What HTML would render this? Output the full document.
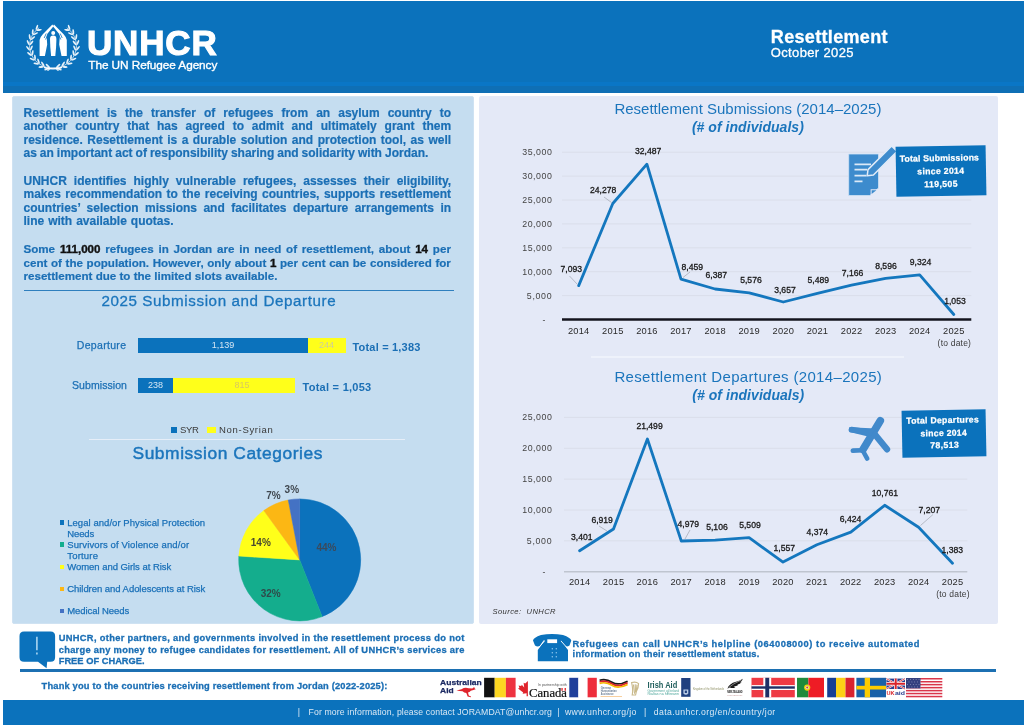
<!DOCTYPE html>
<html><head><meta charset="utf-8"><title>Resettlement</title>
<style>
*{margin:0;padding:0;box-sizing:border-box}
html,body{width:1024px;height:725px;overflow:hidden;background:#fff}
body{position:relative;font-family:"Liberation Sans",sans-serif;color:#1b6fb5}
.abs{position:absolute}
.t{position:absolute;white-space:pre}
.p b{color:#111;-webkit-text-stroke:.4px #111}
</style></head><body>
<div class="abs" style="left:2.8px;top:1.1px;width:1021.2px;height:92.3px;background:#0b72bc;"></div>
<div class="abs" style="left:2.8px;top:81.8px;width:1021.2px;height:4.2px;background:#0a76c6;"></div>
<div class="abs" style="left:2.8px;top:86px;width:1021.2px;height:7.4px;background:#0f6fb5;"></div>
<div class="abs" style="left:12px;top:96px;width:461.7px;height:527.8px;background:#c5ddf0;border-radius:2px;border:1.5px solid #cfe2f2;"></div>
<div class="abs" style="left:479.4px;top:96px;width:519.1px;height:528.3px;background:#e4e9f7;border-radius:2px;"></div>
<div class="abs" style="left:3.1px;top:699.8px;width:1021px;height:25.2px;background:#0b72bc;"></div>
<div class="t" style="left:87.0px;top:22.1px;font-size:35px;line-height:42.0px;color:#fff;font-weight:bold;letter-spacing:0.824px;-webkit-text-stroke:1.1px #fff;">UNHCR</div>
<div class="t" style="left:88.3px;top:58.2px;font-size:11.8px;line-height:14.2px;color:#fff;letter-spacing:-0.073px;-webkit-text-stroke:.35px #fff;">The UN Refugee Agency</div>
<div class="t" style="left:770.8px;top:26.6px;font-size:18px;line-height:21.6px;color:#fff;font-weight:bold;letter-spacing:0.330px;-webkit-text-stroke:.3px #fff;">Resettlement</div>
<div class="t" style="left:770.8px;top:45.2px;font-size:13px;line-height:15.6px;color:#fff;letter-spacing:0.352px;-webkit-text-stroke:.3px #fff;">October 2025</div>
<div class="t p" style="left:23.5px;top:105.7px;font-size:12px;line-height:14.4px;font-weight:bold;color:#1b6fb5;word-spacing:4.751px;-webkit-text-stroke:.2px #1b6fb5;">Resettlement is the transfer of refugees from an asylum country to</div>
<div class="t p" style="left:23.5px;top:119.1px;font-size:12px;line-height:14.4px;font-weight:bold;color:#1b6fb5;word-spacing:4.488px;-webkit-text-stroke:.2px #1b6fb5;">another country that has agreed to admit and ultimately grant them</div>
<div class="t p" style="left:23.5px;top:132.6px;font-size:12px;line-height:14.4px;font-weight:bold;color:#1b6fb5;word-spacing:1.151px;-webkit-text-stroke:.2px #1b6fb5;">residence. Resettlement is a durable solution and protection tool, as well</div>
<div class="t p" style="left:23.5px;top:146.0px;font-size:12px;line-height:14.4px;font-weight:bold;color:#1b6fb5;word-spacing:-0.327px;-webkit-text-stroke:.2px #1b6fb5;">as an important act of responsibility sharing and solidarity with Jordan.</div>
<div class="t p" style="left:23.5px;top:173.7px;font-size:12px;line-height:14.4px;font-weight:bold;color:#1b6fb5;word-spacing:3.671px;-webkit-text-stroke:.2px #1b6fb5;">UNHCR identifies highly vulnerable refugees, assesses their eligibility,</div>
<div class="t p" style="left:23.5px;top:187.1px;font-size:12px;line-height:14.4px;font-weight:bold;color:#1b6fb5;word-spacing:1.164px;-webkit-text-stroke:.2px #1b6fb5;">makes recommendation to the receiving countries, supports resettlement</div>
<div class="t p" style="left:23.5px;top:200.6px;font-size:12px;line-height:14.4px;font-weight:bold;color:#1b6fb5;word-spacing:3.067px;-webkit-text-stroke:.2px #1b6fb5;">countries’ selection missions and facilitates departure arrangements in</div>
<div class="t p" style="left:23.5px;top:214.0px;font-size:12px;line-height:14.4px;font-weight:bold;color:#1b6fb5;word-spacing:0.654px;-webkit-text-stroke:.2px #1b6fb5;">line with available quotas.</div>
<div class="t p" style="left:23.5px;top:242.3px;font-size:11.6px;line-height:13.9px;font-weight:bold;color:#1b6fb5;word-spacing:1.572px;-webkit-text-stroke:.2px #1b6fb5;">Some <b>111,000</b> refugees in Jordan are in need of resettlement, about <b>14</b> per</div>
<div class="t p" style="left:23.5px;top:255.7px;font-size:11.6px;line-height:13.9px;font-weight:bold;color:#1b6fb5;word-spacing:0.417px;-webkit-text-stroke:.2px #1b6fb5;">cent of the population. However, only about <b>1</b> per cent can be considered for</div>
<div class="t p" style="left:23.5px;top:269.2px;font-size:11.6px;line-height:13.9px;font-weight:bold;color:#1b6fb5;word-spacing:0.003px;-webkit-text-stroke:.2px #1b6fb5;">resettlement due to the limited slots available.</div>
<div class="abs" style="left:23.5px;top:289.5px;width:430.3px;height:1.2px;background:#2f7fbe;"></div>
<div class="t" style="left:101.4px;top:292.0px;font-size:15.2px;line-height:18.2px;color:#1b75bc;letter-spacing:0.586px;-webkit-text-stroke:.3px #1b75bc;">2025 Submission and Departure</div>
<div class="t" style="left:76.8px;top:339.3px;font-size:10.5px;line-height:12.6px;color:#1b6fb5;letter-spacing:0.312px;-webkit-text-stroke:.25px #1b6fb5;">Departure</div>
<div class="t" style="left:72.0px;top:379.3px;font-size:10.5px;line-height:12.6px;color:#1b6fb5;letter-spacing:0.073px;-webkit-text-stroke:.25px #1b6fb5;">Submission</div>
<div class="abs" style="left:138px;top:338.1px;width:169.6px;height:14.5px;background:#0b72bc;"></div>
<div class="abs" style="left:307.6px;top:338.1px;width:38px;height:14.5px;background:#ffff1a;"></div>
<div class="abs" style="left:138px;top:378.1px;width:34.8px;height:14.5px;background:#0b72bc;"></div>
<div class="abs" style="left:172.8px;top:378.1px;width:122.2px;height:14.5px;background:#ffff1a;"></div>
<div class="t" style="left:211.7px;top:340.1px;font-size:9px;line-height:10.8px;color:#d6e6f3;">1,139</div>
<div class="t" style="left:319.0px;top:340.1px;font-size:9px;line-height:10.8px;color:#cdcd9c;">244</div>
<div class="t" style="left:148.0px;top:380.1px;font-size:9px;line-height:10.8px;color:#d6e6f3;">238</div>
<div class="t" style="left:234.5px;top:380.1px;font-size:9px;line-height:10.8px;color:#d9c860;">815</div>
<div class="t" style="left:352.5px;top:340.9px;font-size:11px;line-height:13.2px;color:#1b6fb5;font-weight:bold;letter-spacing:0.191px;">Total = 1,383</div>
<div class="t" style="left:302.5px;top:380.9px;font-size:11px;line-height:13.2px;color:#1b6fb5;font-weight:bold;letter-spacing:0.268px;">Total = 1,053</div>
<div class="abs" style="left:170.6px;top:426.6px;width:6.2px;height:6.2px;background:#0b72bc;"></div>
<div class="t" style="left:180.0px;top:424.3px;font-size:9.5px;line-height:11.4px;color:#3a3a3a;letter-spacing:-0.345px;">SYR</div>
<div class="abs" style="left:206.5px;top:426.6px;width:9.5px;height:6.2px;background:#ffff1a;"></div>
<div class="t" style="left:219.0px;top:424.3px;font-size:9.5px;line-height:11.4px;color:#3a3a3a;letter-spacing:0.698px;">Non-Syrian</div>
<div class="abs" style="left:89px;top:439px;width:316px;height:1.3px;background:#e6eef8;"></div>
<div class="t" style="left:132.5px;top:442.9px;font-size:17.4px;line-height:20.9px;color:#1b75bc;letter-spacing:0.551px;-webkit-text-stroke:.45px #1b75bc;">Submission Categories</div>
<svg class="abs" style="left:0;top:0" width="1024" height="725" viewBox="0 0 1024 725">
<path d="M299.7,559.9 L299.70,498.90 A61,61 0 0 1 322.16,616.62 Z" fill="#0b72bc" stroke="#0b72bc" stroke-width=".5"/>
<path d="M299.7,559.9 L322.16,616.62 A61,61 0 0 1 238.82,556.07 Z" fill="#14ad8d" stroke="#14ad8d" stroke-width=".5"/>
<path d="M299.7,559.9 L238.82,556.07 A61,61 0 0 1 263.85,510.55 Z" fill="#ffff1a" stroke="#ffff1a" stroke-width=".5"/>
<path d="M299.7,559.9 L263.85,510.55 A61,61 0 0 1 288.27,499.98 Z" fill="#fcb714" stroke="#fcb714" stroke-width=".5"/>
<path d="M299.7,559.9 L288.27,499.98 A61,61 0 0 1 299.70,498.90 Z" fill="#4472c4" stroke="#4472c4" stroke-width=".5"/>
<line x1="562" y1="295.6" x2="971.3" y2="295.6" stroke="#dadeea" stroke-width="1"/>
<line x1="562" y1="271.7" x2="971.3" y2="271.7" stroke="#dadeea" stroke-width="1"/>
<line x1="562" y1="247.8" x2="971.3" y2="247.8" stroke="#dadeea" stroke-width="1"/>
<line x1="562" y1="223.9" x2="971.3" y2="223.9" stroke="#dadeea" stroke-width="1"/>
<line x1="562" y1="200.0" x2="971.3" y2="200.0" stroke="#dadeea" stroke-width="1"/>
<line x1="562" y1="176.1" x2="971.3" y2="176.1" stroke="#dadeea" stroke-width="1"/>
<line x1="562" y1="152.2" x2="971.3" y2="152.2" stroke="#dadeea" stroke-width="1"/>
<line x1="562" y1="319.5" x2="971.3" y2="319.5" stroke="#14141e" stroke-width="2.3"/>
<polyline fill="none" stroke="#1477be" stroke-width="2.8" stroke-linejoin="round" stroke-linecap="round" points="578.7,285.6 612.8,203.5 646.9,164.2 681.0,279.1 715.1,289.0 749.2,292.8 783.3,302.0 817.4,293.3 851.5,285.2 885.6,278.4 919.7,274.9 953.8,314.5"/>
<line x1="564" y1="540.8" x2="967.3" y2="540.8" stroke="#dadeea" stroke-width="1"/>
<line x1="564" y1="510.0" x2="967.3" y2="510.0" stroke="#dadeea" stroke-width="1"/>
<line x1="564" y1="479.1" x2="967.3" y2="479.1" stroke="#dadeea" stroke-width="1"/>
<line x1="564" y1="448.3" x2="967.3" y2="448.3" stroke="#dadeea" stroke-width="1"/>
<line x1="564" y1="417.4" x2="967.3" y2="417.4" stroke="#dadeea" stroke-width="1"/>
<line x1="564" y1="571.7" x2="967.3" y2="571.7" stroke="#bfc5d0" stroke-width="1.6"/>
<polyline fill="none" stroke="#1477be" stroke-width="2.8" stroke-linejoin="round" stroke-linecap="round" points="579.6,550.7 613.5,529.0 647.4,439.0 681.3,541.0 715.2,540.2 749.1,537.7 783.0,562.1 816.9,544.7 850.8,532.1 884.7,505.3 918.6,527.2 952.5,563.2"/>
<line x1="569.5" y1="276" x2="577.5" y2="284.5" stroke="#a8adb8" stroke-width="0.8"/>
<line x1="604" y1="197" x2="611.5" y2="202.5" stroke="#a8adb8" stroke-width="0.8"/>
<line x1="690" y1="272" x2="683" y2="277.5" stroke="#a8adb8" stroke-width="0.8"/>
<line x1="599" y1="526" x2="607" y2="531" stroke="#a8adb8" stroke-width="0.8"/>
<line x1="690" y1="530" x2="685" y2="539" stroke="#a8adb8" stroke-width="0.8"/>
<line x1="933" y1="514.5" x2="920.5" y2="525.5" stroke="#a8adb8" stroke-width="0.8"/>
<path fill="#fff" d="M39.6,56 L39.6,40 Q40.3,36.8 42.8,34.2 L52.4,24.6 L53.5,26.3 L47.4,33.8 Q46,36.2 46.8,39 L47.2,44.5 L44.9,56 Z"/>
<path fill="#fff" d="M66.8,56 L66.8,40 Q66.1,36.8 63.6,34.2 L54,24.6 L52.9,26.3 L59,33.8 Q60.4,36.2 59.6,39 L59.2,44.5 L61.5,56 Z"/>
<path stroke="#0b72bc" stroke-width="0.8" fill="none" d="M44.2,38 L46.2,33.5 M45.6,39.5 L47.4,35.5 M62.2,38 L60.2,33.5 M60.8,39.5 L59,35.5"/>
<circle cx="53.2" cy="32.9" r="2" fill="#fff"/>
<path fill="#fff" d="M50,39 Q50,35.6 53.2,35.6 Q56.4,35.6 56.4,39 L56.1,47 L55.3,56 L51.1,56 L50.3,47 Z"/>
<polyline fill="none" stroke="#fff" stroke-width="0.7" points="57.9,67.6 55.4,68.0 53.0,68.1 50.6,68.0 48.1,67.6 45.8,67.0 43.5,66.2 41.3,65.1 39.2,63.8 37.3,62.4 35.6,60.7 34.1,58.9 32.7,57.0 31.6,54.9 30.7,52.7 30.1,50.4 29.7,48.1 29.6,45.8 29.7,43.5 30.1,41.2 30.7,38.9 31.6,36.7 32.7,34.7 34.1,32.7 35.6,30.9 37.3,29.2 39.2,27.8"/>
<ellipse cx="46.9" cy="69.1" rx="2.8" ry="0.9" fill="#fff" opacity=".9" transform="rotate(-197.6 46.9 69.1)"/>
<ellipse cx="47.8" cy="65.8" rx="2.8" ry="0.9" fill="#fff" opacity=".9" transform="rotate(-137.6 47.8 65.8)"/>
<ellipse cx="41.2" cy="67.0" rx="2.8" ry="0.9" fill="#fff" opacity=".9" transform="rotate(-184.1 41.2 67.0)"/>
<ellipse cx="42.8" cy="64.0" rx="2.8" ry="0.9" fill="#fff" opacity=".9" transform="rotate(-124.1 42.8 64.0)"/>
<ellipse cx="36.2" cy="63.6" rx="2.8" ry="0.9" fill="#fff" opacity=".9" transform="rotate(-170.4 36.2 63.6)"/>
<ellipse cx="38.5" cy="61.1" rx="2.8" ry="0.9" fill="#fff" opacity=".9" transform="rotate(-110.4 38.5 61.1)"/>
<ellipse cx="32.2" cy="59.2" rx="2.8" ry="0.9" fill="#fff" opacity=".9" transform="rotate(-156.3 32.2 59.2)"/>
<ellipse cx="35.0" cy="57.3" rx="2.8" ry="0.9" fill="#fff" opacity=".9" transform="rotate(-96.3 35.0 57.3)"/>
<ellipse cx="29.4" cy="54.0" rx="2.8" ry="0.9" fill="#fff" opacity=".9" transform="rotate(-141.9 29.4 54.0)"/>
<ellipse cx="32.6" cy="52.8" rx="2.8" ry="0.9" fill="#fff" opacity=".9" transform="rotate(-81.9 32.6 52.8)"/>
<ellipse cx="28.0" cy="48.3" rx="2.8" ry="0.9" fill="#fff" opacity=".9" transform="rotate(-127.3 28.0 48.3)"/>
<ellipse cx="31.4" cy="48.0" rx="2.8" ry="0.9" fill="#fff" opacity=".9" transform="rotate(-67.3 31.4 48.0)"/>
<ellipse cx="28.1" cy="42.5" rx="2.8" ry="0.9" fill="#fff" opacity=".9" transform="rotate(-112.7 28.1 42.5)"/>
<ellipse cx="31.5" cy="42.9" rx="2.8" ry="0.9" fill="#fff" opacity=".9" transform="rotate(-52.7 31.5 42.9)"/>
<ellipse cx="29.7" cy="36.8" rx="2.8" ry="0.9" fill="#fff" opacity=".9" transform="rotate(-98.1 29.7 36.8)"/>
<ellipse cx="32.9" cy="38.1" rx="2.8" ry="0.9" fill="#fff" opacity=".9" transform="rotate(-38.1 32.9 38.1)"/>
<ellipse cx="32.7" cy="31.7" rx="2.8" ry="0.9" fill="#fff" opacity=".9" transform="rotate(-83.7 32.7 31.7)"/>
<ellipse cx="35.4" cy="33.7" rx="2.8" ry="0.9" fill="#fff" opacity=".9" transform="rotate(-23.7 35.4 33.7)"/>
<ellipse cx="36.9" cy="27.4" rx="2.8" ry="0.9" fill="#fff" opacity=".9" transform="rotate(-69.6 36.9 27.4)"/>
<ellipse cx="39.1" cy="30.0" rx="2.8" ry="0.9" fill="#fff" opacity=".9" transform="rotate(-9.6 39.1 30.0)"/>
<polyline fill="none" stroke="#fff" stroke-width="0.7" points="48.1,67.6 50.6,68.0 53.0,68.1 55.4,68.0 57.9,67.6 60.2,67.0 62.5,66.2 64.7,65.1 66.8,63.8 68.7,62.4 70.4,60.7 71.9,58.9 73.3,57.0 74.4,54.9 75.3,52.7 75.9,50.4 76.3,48.1 76.4,45.8 76.3,43.5 75.9,41.2 75.3,38.9 74.4,36.7 73.3,34.7 71.9,32.7 70.4,30.9 68.7,29.2 66.8,27.8"/>
<ellipse cx="59.1" cy="69.1" rx="2.8" ry="0.9" fill="#fff" opacity=".9" transform="rotate(17.6 59.1 69.1)"/>
<ellipse cx="58.2" cy="65.8" rx="2.8" ry="0.9" fill="#fff" opacity=".9" transform="rotate(-42.4 58.2 65.8)"/>
<ellipse cx="64.8" cy="67.0" rx="2.8" ry="0.9" fill="#fff" opacity=".9" transform="rotate(4.1 64.8 67.0)"/>
<ellipse cx="63.2" cy="64.0" rx="2.8" ry="0.9" fill="#fff" opacity=".9" transform="rotate(-55.9 63.2 64.0)"/>
<ellipse cx="69.8" cy="63.6" rx="2.8" ry="0.9" fill="#fff" opacity=".9" transform="rotate(-9.6 69.8 63.6)"/>
<ellipse cx="67.5" cy="61.1" rx="2.8" ry="0.9" fill="#fff" opacity=".9" transform="rotate(-69.6 67.5 61.1)"/>
<ellipse cx="73.8" cy="59.2" rx="2.8" ry="0.9" fill="#fff" opacity=".9" transform="rotate(-23.7 73.8 59.2)"/>
<ellipse cx="71.0" cy="57.3" rx="2.8" ry="0.9" fill="#fff" opacity=".9" transform="rotate(-83.7 71.0 57.3)"/>
<ellipse cx="76.6" cy="54.0" rx="2.8" ry="0.9" fill="#fff" opacity=".9" transform="rotate(-38.1 76.6 54.0)"/>
<ellipse cx="73.4" cy="52.8" rx="2.8" ry="0.9" fill="#fff" opacity=".9" transform="rotate(-98.1 73.4 52.8)"/>
<ellipse cx="78.0" cy="48.3" rx="2.8" ry="0.9" fill="#fff" opacity=".9" transform="rotate(-52.7 78.0 48.3)"/>
<ellipse cx="74.6" cy="48.0" rx="2.8" ry="0.9" fill="#fff" opacity=".9" transform="rotate(-112.7 74.6 48.0)"/>
<ellipse cx="77.9" cy="42.5" rx="2.8" ry="0.9" fill="#fff" opacity=".9" transform="rotate(-67.3 77.9 42.5)"/>
<ellipse cx="74.5" cy="42.9" rx="2.8" ry="0.9" fill="#fff" opacity=".9" transform="rotate(-127.3 74.5 42.9)"/>
<ellipse cx="76.3" cy="36.8" rx="2.8" ry="0.9" fill="#fff" opacity=".9" transform="rotate(-81.9 76.3 36.8)"/>
<ellipse cx="73.1" cy="38.1" rx="2.8" ry="0.9" fill="#fff" opacity=".9" transform="rotate(-141.9 73.1 38.1)"/>
<ellipse cx="73.3" cy="31.7" rx="2.8" ry="0.9" fill="#fff" opacity=".9" transform="rotate(-96.3 73.3 31.7)"/>
<ellipse cx="70.6" cy="33.7" rx="2.8" ry="0.9" fill="#fff" opacity=".9" transform="rotate(-156.3 70.6 33.7)"/>
<ellipse cx="69.1" cy="27.4" rx="2.8" ry="0.9" fill="#fff" opacity=".9" transform="rotate(-110.4 69.1 27.4)"/>
<ellipse cx="66.9" cy="30.0" rx="2.8" ry="0.9" fill="#fff" opacity=".9" transform="rotate(-170.4 66.9 30.0)"/>
<path stroke="#fff" stroke-width="1.1" fill="none" d="M44,67.6 Q53,70.2 62,67.4 M62,67.6 Q53,70.2 44,67.4 M56,69 L58.5,70.6 M50,69 L47.5,70.6"/>
<path fill="#3d8bcd" stroke="#cfe2f5" stroke-width="0.8" d="M848.7,154 L878.5,154 L878.5,188 L870,195.5 L848.7,195.5 Z"/>
<path fill="#e4e9f7" d="M870.6,196 L870.6,189.2 L879,189.2 Z"/>
<path fill="#3d8bcd" d="M871.6,194 L871.6,190.2 L876.4,190.2 Z"/>
<path stroke="#dce9f7" stroke-width="1.9" d="M854.5,164.4 L871,164.4 M854.5,169.6 L867,169.6 M854.5,175.6 L866.5,175.6 M854.5,181.4 L862.5,181.4"/>
<path fill="#3d8bcd" stroke="#e0ebf8" stroke-width="1.5" stroke-linejoin="round" d="M867.2,175.8 L868,169.6 L891.6,146 L897.2,151.4 L873.4,175 Z"/>
<g stroke="#4189cb" stroke-linecap="round" fill="none"><line x1="880.3" y1="420.8" x2="863" y2="449.5" stroke-width="7.6"/><line x1="851.5" y1="429.6" x2="872" y2="432.5" stroke-width="5.8"/><line x1="874.5" y1="434" x2="887" y2="449.3" stroke-width="6.4"/><line x1="862" y1="450.3" x2="852.8" y2="450.6" stroke-width="4.6"/><line x1="863" y1="451" x2="867.2" y2="458.6" stroke-width="4.6"/></g>
<path fill="#4189cb" d="M849.2,427.2 L876,428.5 L870,437 L849.5,432 Z"/>
<path fill="#0b72bc" d="M24,631.5 L50.6,631.5 Q55.1,631.5 55.1,636 L55.1,657.2 Q55.1,661.7 50.6,661.7 L47.2,661.7 L46.6,668.2 L38,661.7 L24,661.7 Q19.5,661.7 19.5,657.2 L19.5,636 Q19.5,631.5 24,631.5 Z"/>
<path stroke="#b5dcf5" stroke-width="1.5" d="M36.9,636.8 L36.9,650.2 M36.9,652.4 L36.9,654.4"/>
<path fill="#0b72bc" d="M533,640.5 Q533.5,637.5 541,635 Q552,632.8 563,635 Q570.5,637.5 571.3,640.5 L569.5,645.5 Q567,647.2 564.5,645.8 L561,640.5 L560,640 L545,640 L543.5,640.5 L540,645.8 Q537.5,647.2 535,645.5 Z"/>
<path fill="#0b72bc" d="M546,638.5 L559.5,638.5 L568,650 L568,661.3 L537.8,661.3 L537.8,650 Z"/>
<rect x="547.3" y="639.3" width="9.8" height="3.8" fill="#fff"/>
<path stroke="#fff" stroke-width="0.9" fill="none" d="M544.5,641 L538.5,647.8 M561,641 L567.2,647.8"/>
<circle cx="552.3" cy="648.8" r="0.75" fill="#8fc6ee"/>
<circle cx="556.3" cy="648.8" r="0.75" fill="#8fc6ee"/>
<circle cx="552.3" cy="652.8" r="0.75" fill="#8fc6ee"/>
<circle cx="556.3" cy="652.8" r="0.75" fill="#8fc6ee"/>
<circle cx="552.3" cy="656.8" r="0.75" fill="#8fc6ee"/>
<circle cx="556.3" cy="656.8" r="0.75" fill="#8fc6ee"/>
<text x="440.1" y="685.1" font-family="Liberation Sans, sans-serif" font-weight="bold" font-size="7.9" fill="#1c2a63" textLength="41.6" lengthAdjust="spacingAndGlyphs" stroke="#1c2a63" stroke-width=".25">Australian</text>
<text x="440.1" y="692.9" font-family="Liberation Sans, sans-serif" font-weight="bold" font-size="7.9" fill="#1c2a63" textLength="13.6" lengthAdjust="spacingAndGlyphs" stroke="#1c2a63" stroke-width=".25">Aid</text>
<path fill="#e0242c" d="M456.5,690.6 L461.5,689.3 Q465,687 468.5,688.3 L472.3,688.6 L474.2,687 L474.6,688.3 L475.8,689.2 L473.4,690 L470.8,690.8 Q469.6,692.4 468,692.6 L468.8,695.4 L471,696.6 L471,697.3 L467.6,696.4 L466.3,693 Q464,692.8 462.6,691.3 L459.5,691 Z"/>
<rect x="484.1" y="677.8" width="10.6" height="19.5" fill="#111"/>
<rect x="494.7" y="677.8" width="11.2" height="19.5" fill="#fdd621"/>
<rect x="505.9" y="677.8" width="9.7" height="19.5" fill="#ee3340"/>
<path fill="#e0242c" d="M527.9,680.9 L527.9,696.3 L526.6,696.3 L526.6,693.2 L522.6,693.8 L523.2,692.4 L518,688.6 L519.4,688 L518.6,685.4 L521.2,685.9 L521.8,684.8 L524.2,687.4 L523.6,682.8 L525.2,683.6 Z"/>
<text x="529" y="697" font-family="Liberation Serif, serif" font-size="12.4" fill="#111" textLength="38" lengthAdjust="spacingAndGlyphs" stroke="#111" stroke-width=".2">Canada</text>
<text x="538" y="685.6" font-family="Liberation Sans, sans-serif" font-size="2.9" fill="#555" textLength="28.6" lengthAdjust="spacingAndGlyphs">In partnership with</text>
<rect x="561.4" y="688" width="1.3" height="2.8" fill="#e0242c"/><rect x="564.6" y="688" width="1.3" height="2.8" fill="#e0242c"/>
<rect x="569.3" y="677.8" width="9.1" height="19.5" fill="#1f3f9a"/>
<rect x="578.4" y="677.8" width="9.2" height="19.5" fill="#fff"/>
<rect x="587.6" y="677.8" width="9.2" height="19.5" fill="#ee2e3c"/>
<path fill="none" stroke="#1a1a1a" stroke-width="1.7" d="M599.6,680.2 Q606,678.2 612,682.2 T627.6,681.2"/>
<path fill="none" stroke="#d8232a" stroke-width="1.7" d="M599.6,681.8 Q606,679.8 612,683.8 T627.6,682.8"/>
<path fill="none" stroke="#f5b800" stroke-width="1.7" d="M599.6,683.4 Q606,681.4 612,685.4 T627.6,684.4"/>
<text x="600.7" y="688.9" font-family="Liberation Sans, sans-serif" font-size="3" font-weight="bold" fill="#6a7d94" textLength="10.5" lengthAdjust="spacingAndGlyphs">German</text>
<text x="600.7" y="692.1" font-family="Liberation Sans, sans-serif" font-size="3" font-weight="bold" fill="#6a7d94" textLength="16" lengthAdjust="spacingAndGlyphs">Humanitarian</text>
<text x="600.7" y="695.3" font-family="Liberation Sans, sans-serif" font-size="3" font-weight="bold" fill="#6a7d94" textLength="13" lengthAdjust="spacingAndGlyphs">Assistance</text>
<rect x="600.5" y="696" width="21.5" height=".5" fill="#f0a040"/>
<path fill="none" stroke="#c9b98a" stroke-width="1.1" d="M631.6,682.6 Q636,681.2 638.6,683.6 Q638.6,688 636.4,691.4 L635.6,695 L632.2,695 Q633.4,690 631.6,682.6 Z M633.4,684.5 L634.6,693.8 M635.2,684.2 L635.6,692.4 M637,684.6 L636.4,690.4"/>
<text x="647.6" y="688.4" font-family="Liberation Sans, sans-serif" font-weight="bold" font-size="8.6" fill="#22605e" textLength="29.6" lengthAdjust="spacingAndGlyphs">Irish Aid</text>
<text x="647.6" y="691.8" font-family="Liberation Sans, sans-serif" font-size="2.9" fill="#4fa79c" textLength="31.5" lengthAdjust="spacingAndGlyphs">Government of Ireland</text>
<text x="647.6" y="694.8" font-family="Liberation Sans, sans-serif" font-size="2.9" fill="#4fa79c" textLength="31.5" lengthAdjust="spacingAndGlyphs">Rialtas na hÉireann</text>
<rect x="681.2" y="678.0" width="9.3" height="18.8" fill="#20407f"/>
<path fill="#b9cbe6" d="M683.4,689.6 L688.3,689.6 L688.3,693.4 Q685.9,696 683.4,693.4 Z"/>
<rect x="684.8" y="690.6" width="2.1" height="2.4" fill="#20407f"/>
<text x="692.9" y="690" font-family="Liberation Sans, sans-serif" font-size="3.1" fill="#8d8f63" textLength="31" lengthAdjust="spacingAndGlyphs">Kingdom of the Netherlands</text>
<path fill="#1a1a1a" d="M727.4,688.8 Q729,683.6 736,681.8 Q740,680.6 742.8,678.7 Q742.4,681 739.8,682.4 Q741,682.3 741.6,681.9 Q740.4,684 737.2,684.4 Q738.4,684.8 739,684.6 Q737,686.6 733.6,686.4 Q734.6,687.2 735.4,687.2 Q732.6,688.8 730,687.6 Q728.6,688 727.4,688.8 Z"/>
<path fill="none" stroke="#e4e4e4" stroke-width=".5" d="M728.6,687.6 Q733,683.6 741.6,680"/>
<text x="727.2" y="693.4" font-family="Liberation Sans, sans-serif" font-weight="bold" font-size="2.7" fill="#111" textLength="15.2" lengthAdjust="spacingAndGlyphs">NEW ZEALAND</text>
<text x="727.2" y="696.4" font-family="Liberation Sans, sans-serif" font-size="2.2" fill="#b88" textLength="15.2" lengthAdjust="spacingAndGlyphs">Foreign Affairs &amp; Trade</text>
<rect x="751.5" y="677.8" width="43.3" height="19.5" fill="#ee3a43"/>
<rect x="763.3" y="677.8" width="7.9" height="19.5" fill="#fff"/>
<rect x="751.5" y="685.1" width="43.3" height="4.9" fill="#fff"/>
<rect x="765.3" y="677.8" width="3.9" height="19.5" fill="#1f2f66"/>
<rect x="751.5" y="686.3" width="43.3" height="2.4" fill="#1f2f66"/>
<rect x="797.0" y="677.8" width="11.4" height="19.5" fill="#1f8a3c"/>
<rect x="808.4" y="677.8" width="15.6" height="19.5" fill="#ee1c25"/>
<circle cx="807.2" cy="687.6" r="3.1" fill="#f4d20c"/><circle cx="807.2" cy="687.6" r="1.7" fill="#e8e8e8"/><circle cx="807.2" cy="687.6" r="1" fill="#d03a3a"/>
<rect x="827.2" y="677.8" width="8.8" height="19.5" fill="#173f94"/>
<rect x="836.0" y="677.8" width="9.5" height="19.5" fill="#fcd116"/>
<rect x="845.5" y="677.8" width="8.9" height="19.5" fill="#d9232f"/>
<rect x="856.4" y="677.8" width="29.6" height="19.5" fill="#1a61a8"/>
<rect x="864.7" y="677.8" width="5.3" height="19.5" fill="#fecc00"/>
<rect x="856.4" y="685.8" width="29.6" height="3.7" fill="#fecc00"/>
<rect x="886.4" y="678.6" width="18.6" height="10.4" fill="#2a3f8f"/>
<path stroke="#fff" stroke-width="2" d="M886.4,678.6 L905,689 M905,678.6 L886.4,689"/>
<path stroke="#d8232a" stroke-width=".8" d="M886.4,678.6 L905,689 M905,678.6 L886.4,689"/>
<path stroke="#fff" stroke-width="3.4" d="M895.7,678.6 L895.7,689 M886.4,683.8 L905,683.8"/>
<path stroke="#d8232a" stroke-width="2" d="M895.7,678.6 L895.7,689 M886.4,683.8 L905,683.8"/>
<text x="886.6" y="695.4" font-family="Liberation Sans, sans-serif" font-weight="bold" font-size="6.2" fill="#d8232a" textLength="8" lengthAdjust="spacingAndGlyphs">UK</text>
<text x="895" y="695.4" font-family="Liberation Sans, sans-serif" font-weight="bold" font-size="6.2" fill="#2a3f8f" textLength="10" lengthAdjust="spacingAndGlyphs">aid</text>
<rect x="906.0" y="678.0" width="36.3" height="19.3" fill="#fff"/>
<rect x="906.0" y="678.0" width="36.3" height="1.5" fill="#d9364a"/>
<rect x="906.0" y="681.0" width="36.3" height="1.5" fill="#d9364a"/>
<rect x="906.0" y="683.9" width="36.3" height="1.5" fill="#d9364a"/>
<rect x="906.0" y="686.9" width="36.3" height="1.5" fill="#d9364a"/>
<rect x="906.0" y="689.9" width="36.3" height="1.5" fill="#d9364a"/>
<rect x="906.0" y="692.8" width="36.3" height="1.5" fill="#d9364a"/>
<rect x="906.0" y="695.8" width="36.3" height="1.5" fill="#d9364a"/>
<rect x="906.0" y="678.0" width="14.5" height="10.4" fill="#34407f"/>
<circle cx="907.6" cy="679.4" r=".45" fill="#cfd4ea"/>
<circle cx="910.5" cy="679.4" r=".45" fill="#cfd4ea"/>
<circle cx="913.3" cy="679.4" r=".45" fill="#cfd4ea"/>
<circle cx="916.1" cy="679.4" r=".45" fill="#cfd4ea"/>
<circle cx="919.0" cy="679.4" r=".45" fill="#cfd4ea"/>
<circle cx="909.0" cy="681.9" r=".45" fill="#cfd4ea"/>
<circle cx="911.9" cy="681.9" r=".45" fill="#cfd4ea"/>
<circle cx="914.7" cy="681.9" r=".45" fill="#cfd4ea"/>
<circle cx="917.5" cy="681.9" r=".45" fill="#cfd4ea"/>
<circle cx="920.4" cy="681.9" r=".45" fill="#cfd4ea"/>
<circle cx="907.6" cy="684.4" r=".45" fill="#cfd4ea"/>
<circle cx="910.5" cy="684.4" r=".45" fill="#cfd4ea"/>
<circle cx="913.3" cy="684.4" r=".45" fill="#cfd4ea"/>
<circle cx="916.1" cy="684.4" r=".45" fill="#cfd4ea"/>
<circle cx="919.0" cy="684.4" r=".45" fill="#cfd4ea"/>
<circle cx="909.0" cy="686.9" r=".45" fill="#cfd4ea"/>
<circle cx="911.9" cy="686.9" r=".45" fill="#cfd4ea"/>
<circle cx="914.7" cy="686.9" r=".45" fill="#cfd4ea"/>
<circle cx="917.5" cy="686.9" r=".45" fill="#cfd4ea"/>
<circle cx="920.4" cy="686.9" r=".45" fill="#cfd4ea"/>
</svg>
<div class="t" style="left:316.5px;top:542.0px;font-size:10px;line-height:12.0px;color:#3b4a5c;font-weight:bold;">44%</div>
<div class="t" style="left:260.7px;top:587.8px;font-size:10px;line-height:12.0px;color:#2f4a4a;font-weight:bold;">32%</div>
<div class="t" style="left:250.8px;top:536.7px;font-size:10px;line-height:12.0px;color:#4a4a30;font-weight:bold;">14%</div>
<div class="t" style="left:266.2px;top:489.5px;font-size:10px;line-height:12.0px;color:#404850;font-weight:bold;">7%</div>
<div class="t" style="left:284.6px;top:484.0px;font-size:10px;line-height:12.0px;color:#404850;font-weight:bold;">3%</div>
<div class="abs" style="left:59.7px;top:520.3000000000001px;width:4.6px;height:4.6px;background:#0b72bc;"></div>
<div class="t" style="left:67.2px;top:516.9px;font-size:9.5px;line-height:11.4px;color:#1a70b8;letter-spacing:0.055px;-webkit-text-stroke:.25px #1a70b8;">Legal and/or Physical Protection</div>
<div class="t" style="left:67.2px;top:527.8px;font-size:9.5px;line-height:11.4px;color:#1a70b8;letter-spacing:-0.092px;-webkit-text-stroke:.25px #1a70b8;">Needs</div>
<div class="abs" style="left:59.7px;top:542.2px;width:4.6px;height:4.6px;background:#14ad8d;"></div>
<div class="t" style="left:67.2px;top:538.8px;font-size:9.5px;line-height:11.4px;color:#1a70b8;letter-spacing:0.120px;-webkit-text-stroke:.25px #1a70b8;">Survivors of Violence and/or</div>
<div class="t" style="left:67.2px;top:550.3px;font-size:9.5px;line-height:11.4px;color:#1a70b8;letter-spacing:0.205px;-webkit-text-stroke:.25px #1a70b8;">Torture</div>
<div class="abs" style="left:59.7px;top:564.6px;width:4.6px;height:4.6px;background:#ffff1a;"></div>
<div class="t" style="left:67.2px;top:561.2px;font-size:9.5px;line-height:11.4px;color:#1a70b8;letter-spacing:-0.038px;-webkit-text-stroke:.25px #1a70b8;">Women and Girls at Risk</div>
<div class="abs" style="left:59.7px;top:586.7px;width:4.6px;height:4.6px;background:#fcb714;"></div>
<div class="t" style="left:67.2px;top:583.3px;font-size:9.5px;line-height:11.4px;color:#1a70b8;letter-spacing:-0.044px;-webkit-text-stroke:.25px #1a70b8;">Children and Adolescents at Risk</div>
<div class="abs" style="left:59.7px;top:608.7px;width:4.6px;height:4.6px;background:#4472c4;"></div>
<div class="t" style="left:67.2px;top:605.3px;font-size:9.5px;line-height:11.4px;color:#1a70b8;letter-spacing:-0.064px;-webkit-text-stroke:.25px #1a70b8;">Medical Needs</div>
<div class="abs" style="left:19.5px;top:669.4px;width:976.4px;height:2.2px;background:#1c70b2;"></div>
<div class="t" style="left:58.7px;top:633.1px;font-size:9.3px;line-height:11.2px;color:#1b6fb5;font-weight:bold;letter-spacing:0.326px;-webkit-text-stroke:.3px #1b6fb5;">UNHCR, other partners, and governments involved in the resettlement process do not</div>
<div class="t" style="left:58.7px;top:644.7px;font-size:9.3px;line-height:11.2px;color:#1b6fb5;font-weight:bold;letter-spacing:0.295px;-webkit-text-stroke:.3px #1b6fb5;">charge any money to refugee candidates for resettlement. All of UNHCR’s services are</div>
<div class="t" style="left:58.7px;top:656.3px;font-size:9.3px;line-height:11.2px;color:#1b6fb5;font-weight:bold;letter-spacing:0.015px;-webkit-text-stroke:.3px #1b6fb5;">FREE OF CHARGE.</div>
<div class="t" style="left:572.6px;top:638.9px;font-size:9.3px;line-height:11.2px;color:#1b6fb5;font-weight:bold;letter-spacing:0.548px;-webkit-text-stroke:.3px #1b6fb5;">Refugees can call UNHCR’s helpline (064008000) to receive automated</div>
<div class="t" style="left:572.6px;top:649.4px;font-size:9.3px;line-height:11.2px;color:#1b6fb5;font-weight:bold;letter-spacing:0.213px;-webkit-text-stroke:.3px #1b6fb5;">information on their resettlement status.</div>
<div class="t" style="left:41.6px;top:681.4px;font-size:9.3px;line-height:11.2px;color:#1b6fb5;font-weight:bold;letter-spacing:0.171px;-webkit-text-stroke:.3px #1b6fb5;">Thank you to the countries receiving resettlement from Jordan (2022-2025):</div>
<div class="t" style="left:308.5px;top:707.4px;font-size:8.7px;line-height:10.4px;color:#dbe9f5;letter-spacing:0.133px;">For more information, please contact JORAMDAT@unhcr.org</div>
<div class="t" style="left:565.0px;top:707.4px;font-size:8.7px;line-height:10.4px;color:#dbe9f5;letter-spacing:0.341px;">www.unhcr.org/jo</div>
<div class="t" style="left:653.8px;top:707.4px;font-size:8.7px;line-height:10.4px;color:#dbe9f5;letter-spacing:0.388px;">data.unhcr.org/en/country/jor</div>
<div class="t" style="left:297.7px;top:707.2px;font-size:8.7px;line-height:10.4px;color:#dbe9f5;">|</div>
<div class="t" style="left:557.4px;top:707.2px;font-size:8.7px;line-height:10.4px;color:#dbe9f5;">|</div>
<div class="t" style="left:643.9px;top:707.2px;font-size:8.7px;line-height:10.4px;color:#dbe9f5;">|</div>
<div class="t" style="left:614.4px;top:100.1px;font-size:15px;line-height:18.0px;color:#1b75bc;letter-spacing:0.005px;">Resettlement Submissions (2014–2025)</div>
<div class="t" style="left:691.9px;top:119.4px;font-size:14px;line-height:16.8px;color:#1b75bc;font-weight:bold;font-style:italic;letter-spacing:0.043px;">(# of individuals)</div>
<div class="t" style="left:542.6px;top:314.5px;font-size:8.8px;line-height:10.6px;color:#444;">-</div>
<div class="t" style="left:526.8px;top:290.6px;font-size:8.8px;line-height:10.6px;color:#444;letter-spacing:0.696px;">5,000</div>
<div class="t" style="left:522.3px;top:266.7px;font-size:8.8px;line-height:10.6px;color:#444;letter-spacing:0.514px;">10,000</div>
<div class="t" style="left:522.3px;top:242.8px;font-size:8.8px;line-height:10.6px;color:#444;letter-spacing:0.514px;">15,000</div>
<div class="t" style="left:522.3px;top:218.9px;font-size:8.8px;line-height:10.6px;color:#444;letter-spacing:0.514px;">20,000</div>
<div class="t" style="left:522.3px;top:195.0px;font-size:8.8px;line-height:10.6px;color:#444;letter-spacing:0.514px;">25,000</div>
<div class="t" style="left:522.3px;top:171.1px;font-size:8.8px;line-height:10.6px;color:#444;letter-spacing:0.514px;">30,000</div>
<div class="t" style="left:522.3px;top:147.2px;font-size:8.8px;line-height:10.6px;color:#444;letter-spacing:0.514px;">35,000</div>
<div class="t" style="left:568.0px;top:326.1px;font-size:9.3px;line-height:11.2px;color:#2a2a2a;letter-spacing:0.203px;">2014</div>
<div class="t" style="left:602.1px;top:326.1px;font-size:9.3px;line-height:11.2px;color:#2a2a2a;letter-spacing:0.203px;">2015</div>
<div class="t" style="left:636.2px;top:326.1px;font-size:9.3px;line-height:11.2px;color:#2a2a2a;letter-spacing:0.203px;">2016</div>
<div class="t" style="left:670.2px;top:326.1px;font-size:9.3px;line-height:11.2px;color:#2a2a2a;letter-spacing:0.203px;">2017</div>
<div class="t" style="left:704.4px;top:326.1px;font-size:9.3px;line-height:11.2px;color:#2a2a2a;letter-spacing:0.203px;">2018</div>
<div class="t" style="left:738.5px;top:326.1px;font-size:9.3px;line-height:11.2px;color:#2a2a2a;letter-spacing:0.203px;">2019</div>
<div class="t" style="left:772.6px;top:326.1px;font-size:9.3px;line-height:11.2px;color:#2a2a2a;letter-spacing:0.203px;">2020</div>
<div class="t" style="left:806.7px;top:326.1px;font-size:9.3px;line-height:11.2px;color:#2a2a2a;letter-spacing:0.203px;">2021</div>
<div class="t" style="left:840.8px;top:326.1px;font-size:9.3px;line-height:11.2px;color:#2a2a2a;letter-spacing:0.203px;">2022</div>
<div class="t" style="left:874.9px;top:326.1px;font-size:9.3px;line-height:11.2px;color:#2a2a2a;letter-spacing:0.203px;">2023</div>
<div class="t" style="left:909.0px;top:326.1px;font-size:9.3px;line-height:11.2px;color:#2a2a2a;letter-spacing:0.203px;">2024</div>
<div class="t" style="left:943.1px;top:326.1px;font-size:9.3px;line-height:11.2px;color:#2a2a2a;letter-spacing:0.203px;">2025</div>
<div class="t" style="left:937.6px;top:337.6px;font-size:8.5px;line-height:10.2px;color:#3a3a3a;letter-spacing:0.205px;">(to date)</div>
<div class="t" style="left:560.6px;top:263.7px;font-size:8.6px;line-height:10.3px;color:#1a1a1a;-webkit-text-stroke:.3px #1a1a1a;">7,093</div>
<div class="t" style="left:590.0px;top:184.7px;font-size:8.6px;line-height:10.3px;color:#1a1a1a;-webkit-text-stroke:.3px #1a1a1a;">24,278</div>
<div class="t" style="left:635.0px;top:145.8px;font-size:8.6px;line-height:10.3px;color:#1a1a1a;-webkit-text-stroke:.3px #1a1a1a;">32,487</div>
<div class="t" style="left:681.5px;top:262.2px;font-size:8.6px;line-height:10.3px;color:#1a1a1a;-webkit-text-stroke:.3px #1a1a1a;">8,459</div>
<div class="t" style="left:705.5px;top:270.4px;font-size:8.6px;line-height:10.3px;color:#1a1a1a;-webkit-text-stroke:.3px #1a1a1a;">6,387</div>
<div class="t" style="left:740.2px;top:274.7px;font-size:8.6px;line-height:10.3px;color:#1a1a1a;-webkit-text-stroke:.3px #1a1a1a;">5,576</div>
<div class="t" style="left:774.2px;top:284.6px;font-size:8.6px;line-height:10.3px;color:#1a1a1a;-webkit-text-stroke:.3px #1a1a1a;">3,657</div>
<div class="t" style="left:807.6px;top:275.2px;font-size:8.6px;line-height:10.3px;color:#1a1a1a;-webkit-text-stroke:.3px #1a1a1a;">5,489</div>
<div class="t" style="left:841.8px;top:268.1px;font-size:8.6px;line-height:10.3px;color:#1a1a1a;-webkit-text-stroke:.3px #1a1a1a;">7,166</div>
<div class="t" style="left:875.2px;top:260.9px;font-size:8.6px;line-height:10.3px;color:#1a1a1a;-webkit-text-stroke:.3px #1a1a1a;">8,596</div>
<div class="t" style="left:909.8px;top:256.5px;font-size:8.6px;line-height:10.3px;color:#1a1a1a;-webkit-text-stroke:.3px #1a1a1a;">9,324</div>
<div class="t" style="left:944.2px;top:296.2px;font-size:8.6px;line-height:10.3px;color:#1a1a1a;-webkit-text-stroke:.3px #1a1a1a;">1,053</div>
<div class="t" style="left:614.4px;top:367.9px;font-size:15px;line-height:18.0px;color:#1b75bc;letter-spacing:0.338px;">Resettlement Departures (2014–2025)</div>
<div class="t" style="left:692.3px;top:387.1px;font-size:14px;line-height:16.8px;color:#1b75bc;font-weight:bold;font-style:italic;letter-spacing:0.043px;">(# of individuals)</div>
<div class="t" style="left:542.6px;top:566.7px;font-size:8.8px;line-height:10.6px;color:#444;">-</div>
<div class="t" style="left:526.8px;top:535.8px;font-size:8.8px;line-height:10.6px;color:#444;letter-spacing:0.696px;">5,000</div>
<div class="t" style="left:522.3px;top:505.0px;font-size:8.8px;line-height:10.6px;color:#444;letter-spacing:0.514px;">10,000</div>
<div class="t" style="left:522.3px;top:474.1px;font-size:8.8px;line-height:10.6px;color:#444;letter-spacing:0.514px;">15,000</div>
<div class="t" style="left:522.3px;top:443.3px;font-size:8.8px;line-height:10.6px;color:#444;letter-spacing:0.514px;">20,000</div>
<div class="t" style="left:522.3px;top:412.4px;font-size:8.8px;line-height:10.6px;color:#444;letter-spacing:0.514px;">25,000</div>
<div class="t" style="left:568.9px;top:577.4px;font-size:9.3px;line-height:11.2px;color:#2a2a2a;letter-spacing:0.203px;">2014</div>
<div class="t" style="left:602.8px;top:577.4px;font-size:9.3px;line-height:11.2px;color:#2a2a2a;letter-spacing:0.203px;">2015</div>
<div class="t" style="left:636.6px;top:577.4px;font-size:9.3px;line-height:11.2px;color:#2a2a2a;letter-spacing:0.203px;">2016</div>
<div class="t" style="left:670.5px;top:577.4px;font-size:9.3px;line-height:11.2px;color:#2a2a2a;letter-spacing:0.203px;">2017</div>
<div class="t" style="left:704.5px;top:577.4px;font-size:9.3px;line-height:11.2px;color:#2a2a2a;letter-spacing:0.203px;">2018</div>
<div class="t" style="left:738.4px;top:577.4px;font-size:9.3px;line-height:11.2px;color:#2a2a2a;letter-spacing:0.203px;">2019</div>
<div class="t" style="left:772.2px;top:577.4px;font-size:9.3px;line-height:11.2px;color:#2a2a2a;letter-spacing:0.203px;">2020</div>
<div class="t" style="left:806.1px;top:577.4px;font-size:9.3px;line-height:11.2px;color:#2a2a2a;letter-spacing:0.203px;">2021</div>
<div class="t" style="left:840.0px;top:577.4px;font-size:9.3px;line-height:11.2px;color:#2a2a2a;letter-spacing:0.203px;">2022</div>
<div class="t" style="left:874.0px;top:577.4px;font-size:9.3px;line-height:11.2px;color:#2a2a2a;letter-spacing:0.203px;">2023</div>
<div class="t" style="left:907.9px;top:577.4px;font-size:9.3px;line-height:11.2px;color:#2a2a2a;letter-spacing:0.203px;">2024</div>
<div class="t" style="left:941.8px;top:577.4px;font-size:9.3px;line-height:11.2px;color:#2a2a2a;letter-spacing:0.203px;">2025</div>
<div class="t" style="left:936.2px;top:588.9px;font-size:8.5px;line-height:10.2px;color:#3a3a3a;letter-spacing:0.205px;">(to date)</div>
<div class="t" style="left:571.0px;top:531.8px;font-size:8.6px;line-height:10.3px;color:#1a1a1a;-webkit-text-stroke:.3px #1a1a1a;">3,401</div>
<div class="t" style="left:591.4px;top:515.2px;font-size:8.6px;line-height:10.3px;color:#1a1a1a;-webkit-text-stroke:.3px #1a1a1a;">6,919</div>
<div class="t" style="left:636.4px;top:421.2px;font-size:8.6px;line-height:10.3px;color:#1a1a1a;-webkit-text-stroke:.3px #1a1a1a;">21,499</div>
<div class="t" style="left:677.5px;top:518.9px;font-size:8.6px;line-height:10.3px;color:#1a1a1a;-webkit-text-stroke:.3px #1a1a1a;">4,979</div>
<div class="t" style="left:706.2px;top:522.4px;font-size:8.6px;line-height:10.3px;color:#1a1a1a;-webkit-text-stroke:.3px #1a1a1a;">5,106</div>
<div class="t" style="left:739.2px;top:520.2px;font-size:8.6px;line-height:10.3px;color:#1a1a1a;-webkit-text-stroke:.3px #1a1a1a;">5,509</div>
<div class="t" style="left:773.6px;top:543.4px;font-size:8.6px;line-height:10.3px;color:#1a1a1a;-webkit-text-stroke:.3px #1a1a1a;">1,557</div>
<div class="t" style="left:806.5px;top:526.6px;font-size:8.6px;line-height:10.3px;color:#1a1a1a;-webkit-text-stroke:.3px #1a1a1a;">4,374</div>
<div class="t" style="left:839.8px;top:513.9px;font-size:8.6px;line-height:10.3px;color:#1a1a1a;-webkit-text-stroke:.3px #1a1a1a;">6,424</div>
<div class="t" style="left:871.7px;top:487.9px;font-size:8.6px;line-height:10.3px;color:#1a1a1a;-webkit-text-stroke:.3px #1a1a1a;">10,761</div>
<div class="t" style="left:918.5px;top:504.7px;font-size:8.6px;line-height:10.3px;color:#1a1a1a;-webkit-text-stroke:.3px #1a1a1a;">7,207</div>
<div class="t" style="left:941.6px;top:544.9px;font-size:8.6px;line-height:10.3px;color:#1a1a1a;-webkit-text-stroke:.3px #1a1a1a;">1,383</div>
<div class="abs" style="left:591px;top:356.4px;width:313px;height:1.3px;background:#eef2fb;"></div>
<div class="t" style="left:492.5px;top:606.7px;font-size:7.6px;line-height:9.1px;color:#333;font-style:italic;letter-spacing:0.403px;">Source:  UNHCR</div>
<div class="abs" style="left:896.4px;top:146.2px;width:89.8px;height:49.9px;background:#0b72bc;transform:rotate(-1.0deg)"><div class="t" style="left:3.9px;top:6.5px;font-size:8.7px;line-height:10.4px;font-weight:bold;color:#fff;letter-spacing:0.165px;-webkit-text-stroke:.25px #fff">Total Submissions</div><div class="t" style="left:21.3px;top:19.8px;font-size:8.7px;line-height:10.4px;font-weight:bold;color:#fff;letter-spacing:0.298px;-webkit-text-stroke:.25px #fff">since 2014</div><div class="t" style="left:28.0px;top:32.6px;font-size:8.7px;line-height:10.4px;font-weight:bold;color:#fff;letter-spacing:0.405px;-webkit-text-stroke:.25px #fff">119,505</div></div>
<div class="abs" style="left:902.3px;top:409.6px;width:84.4px;height:47.3px;background:#0b72bc;transform:rotate(-1.1deg)"><div class="t" style="left:4.4px;top:4.9px;font-size:8.7px;line-height:10.4px;font-weight:bold;color:#fff;letter-spacing:0.282px;-webkit-text-stroke:.25px #fff">Total Departures</div><div class="t" style="left:18.4px;top:17.6px;font-size:8.7px;line-height:10.4px;font-weight:bold;color:#fff;letter-spacing:0.268px;-webkit-text-stroke:.25px #fff">since 2014</div><div class="t" style="left:28.0px;top:29.9px;font-size:8.7px;line-height:10.4px;font-weight:bold;color:#fff;letter-spacing:0.398px;-webkit-text-stroke:.25px #fff">78,513</div></div>
</body></html>
